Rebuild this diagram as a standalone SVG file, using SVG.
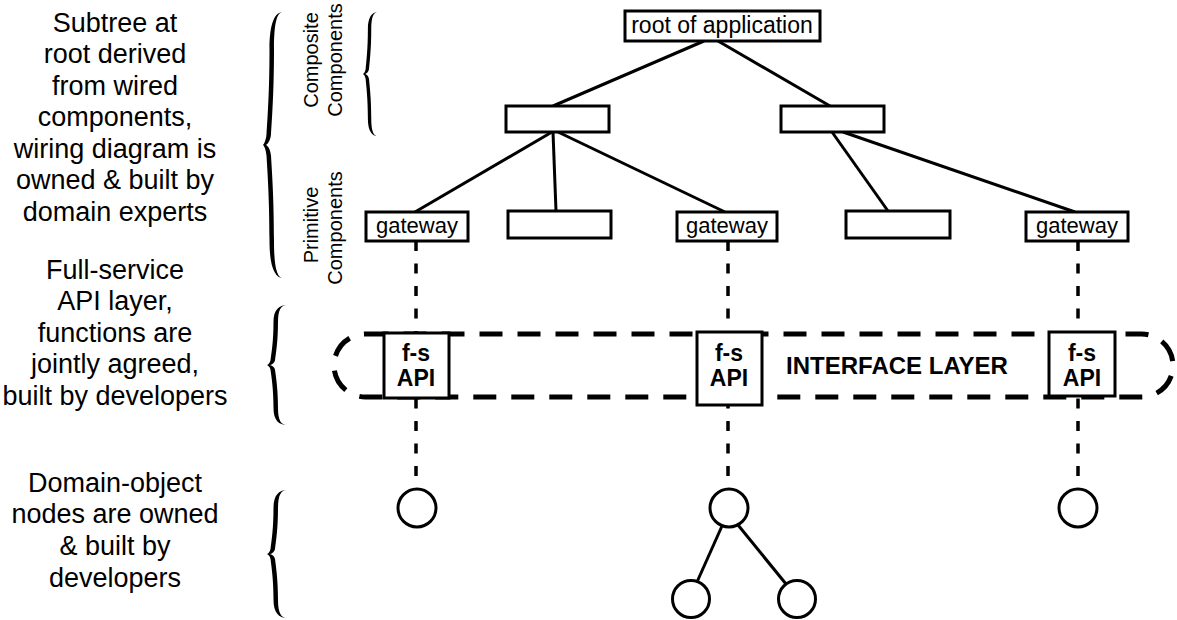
<svg xmlns="http://www.w3.org/2000/svg" width="1177" height="620" viewBox="0 0 1177 620">
<style>
.bx{fill:#fff;stroke:#000;stroke-width:3}
.ln{stroke:#000;stroke-width:3;fill:none}
.dl{stroke:#000;stroke-width:3.5;fill:none;stroke-dasharray:10 12.5}
.lbl{font-family:"Liberation Sans",Arial,sans-serif;font-size:27px;fill:#000;text-anchor:middle}
.vl{font-family:"Liberation Sans",Arial,sans-serif;font-size:20px;fill:#000;text-anchor:middle}
.nt{font-family:"Liberation Sans",Arial,sans-serif;font-size:22px;fill:#000;text-anchor:middle}
.bt{font-family:"Liberation Sans",Arial,sans-serif;font-size:23px;font-weight:bold;fill:#000;text-anchor:middle}
.br{fill:#000}
</style>
<defs>
<path id="brace" d="M20,0 C12,0 6.5,4 6.5,14 C6.5,30 4.5,40 3.5,46 C3,48 1.5,49.5 0,50 C1.5,50.5 3,52 3.5,54 C4.5,60 6.5,70 6.5,86 C6.5,96 12,100 20,100 C14,100 11,96 11,86 C11,70 9,60 8,54 C7.5,52 5.5,50.5 3,50 C5.5,49.5 7.5,48 8,46 C9,40 11,30 11,14 C11,4 14,0 20,0 Z"/>
</defs>
<rect width="1177" height="620" fill="#fff"/>

<g id="labels">
<text class="lbl" x="115" y="32">Subtree at</text>
<text class="lbl" x="115" y="63">root derived</text>
<text class="lbl" x="115" y="95">from wired</text>
<text class="lbl" x="115" y="126">components,</text>
<text class="lbl" x="115" y="158">wiring diagram is</text>
<text class="lbl" x="115" y="189">owned &amp; built by</text>
<text class="lbl" x="115" y="221">domain experts</text>
<text class="lbl" x="115" y="279">Full-service</text>
<text class="lbl" x="115" y="310">API layer,</text>
<text class="lbl" x="115" y="342">functions are</text>
<text class="lbl" x="115" y="373">jointly agreed,</text>
<text class="lbl" x="115" y="405">built by developers</text>
<text class="lbl" x="115" y="492">Domain-object</text>
<text class="lbl" x="115" y="523">nodes are owned</text>
<text class="lbl" x="115" y="555">&amp; built by</text>
<text class="lbl" x="115" y="587">developers</text>
<text class="vl" transform="translate(318,60) rotate(-90)">Composite</text>
<text class="vl" transform="translate(342,60) rotate(-90)">Components</text>
<text class="vl" transform="translate(318,225) rotate(-90)">Primitive</text>
<text class="vl" transform="translate(342,228) rotate(-90)">Components</text>
</g>

<g id="braces">
<use href="#brace" class="br" transform="translate(263,12) scale(1,2.66)"/>
<use href="#brace" class="br" transform="translate(363,12) scale(0.75,1.24)"/>
<use href="#brace" class="br" transform="translate(267,305) scale(1,1.2)"/>
<use href="#brace" class="br" transform="translate(267,490) scale(1,1.28)"/>
</g>

<g id="connectors">
<line class="ln" x1="704" y1="41" x2="553" y2="106"/>
<line class="ln" x1="718" y1="41" x2="830" y2="106"/>
<line class="ln" x1="552" y1="132" x2="415" y2="212"/>
<line class="ln" x1="553" y1="132" x2="556" y2="211"/>
<line class="ln" x1="558" y1="132" x2="725" y2="212"/>
<line class="ln" x1="832" y1="132" x2="888" y2="211"/>
<line class="ln" x1="843" y1="132" x2="1075" y2="212"/>
<line class="dl" x1="416" y1="241" x2="416" y2="489"/>
<line class="dl" x1="728" y1="241" x2="728" y2="489"/>
<line class="dl" x1="1078" y1="241" x2="1078" y2="489"/>
<line class="ln" x1="722" y1="526" x2="697" y2="582"/>
<line class="ln" x1="738" y1="525" x2="786" y2="584"/>
</g>

<g id="interface-layer">
<rect x="334" y="334" width="839" height="63" rx="31.5" fill="none" stroke="#000" stroke-width="5" stroke-dasharray="23 15"/>
<text class="bt" x="897" y="374" style="font-size:24px">INTERFACE LAYER</text>
</g>

<g id="root"><rect class="bx" x="625" y="11" width="195" height="30"/><text class="nt" x="722" y="33" style="font-size:23px">root of application</text></g>
<g id="composite-left"><rect class="bx" x="506" y="106" width="103" height="26"/></g>
<g id="composite-right"><rect class="bx" x="781" y="106" width="103" height="26"/></g>
<g id="gateway1"><rect class="bx" x="366" y="212" width="102" height="29"/><text class="nt" x="417" y="233">gateway</text></g>
<g id="primitive2"><rect class="bx" x="508" y="211" width="103" height="27"/></g>
<g id="gateway2"><rect class="bx" x="677" y="212" width="100" height="29"/><text class="nt" x="727" y="233">gateway</text></g>
<g id="primitive4"><rect class="bx" x="846" y="211" width="104" height="27"/></g>
<g id="gateway3"><rect class="bx" x="1026" y="212" width="102" height="29"/><text class="nt" x="1077" y="233">gateway</text></g>

<g id="api1"><rect class="bx" x="384" y="333" width="65" height="65"/><text class="bt" x="416" y="361">f-s</text><text class="bt" x="416" y="386">API</text></g>
<g id="api2"><rect class="bx" x="697" y="332" width="65" height="73"/><text class="bt" x="729" y="361">f-s</text><text class="bt" x="729" y="386">API</text></g>
<g id="api3"><rect class="bx" x="1049" y="332" width="66" height="64"/><text class="bt" x="1082" y="361">f-s</text><text class="bt" x="1082" y="386">API</text></g>

<g id="obj1"><circle class="bx" cx="417" cy="508" r="19"/></g>
<g id="obj2"><circle class="bx" cx="729" cy="508" r="19"/></g>
<g id="obj3"><circle class="bx" cx="1078" cy="508" r="19"/></g>
<g id="obj2a"><circle class="bx" cx="691" cy="599" r="18.5"/></g>
<g id="obj2b"><circle class="bx" cx="797" cy="599" r="18.5"/></g>
</svg>
